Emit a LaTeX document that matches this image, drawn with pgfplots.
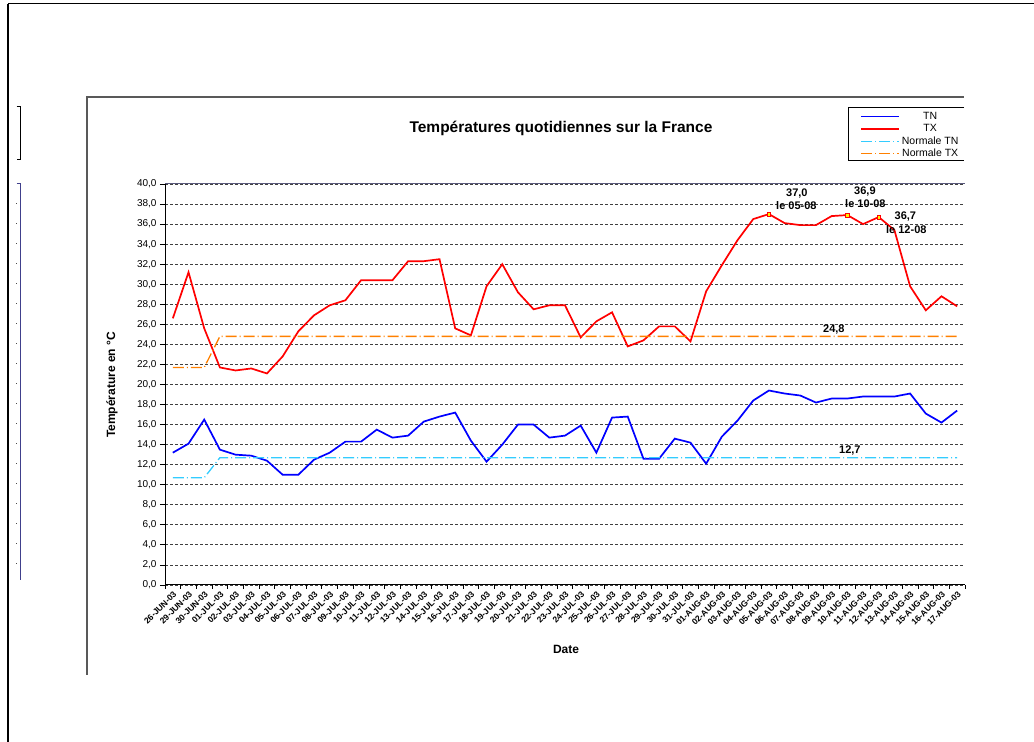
\documentclass[border=0pt]{standalone}
\usepackage{fontspec}
\setmainfont{Liberation Sans}
\usepackage{pgfplots}
\pgfplotsset{compat=1.18}
\usepackage{pgfplotstable}
\definecolor{ntn}{RGB}{51,204,255}
\definecolor{ntx}{RGB}{255,128,0}

\pgfplotstableread{
i TX TN NTX NTN
0 26.6 13.2 21.7 10.7
1 31.2 14.1 21.7 10.7
2 25.6 16.5 21.7 10.7
3 21.7 13.5 24.8 12.7
4 21.4 13.0 24.8 12.7
5 21.6 12.9 24.8 12.7
6 21.1 12.4 24.8 12.7
7 22.8 11.0 24.8 12.7
8 25.3 11.0 24.8 12.7
9 26.9 12.5 24.8 12.7
10 27.9 13.2 24.8 12.7
11 28.4 14.3 24.8 12.7
12 30.4 14.3 24.8 12.7
13 30.4 15.5 24.8 12.7
14 30.4 14.7 24.8 12.7
15 32.3 14.9 24.8 12.7
16 32.3 16.3 24.8 12.7
17 32.5 16.8 24.8 12.7
18 25.6 17.2 24.8 12.7
19 24.9 14.4 24.8 12.7
20 29.8 12.3 24.8 12.7
21 32.0 14.0 24.8 12.7
22 29.2 16.0 24.8 12.7
23 27.5 16.0 24.8 12.7
24 27.9 14.7 24.8 12.7
25 27.9 14.9 24.8 12.7
26 24.7 15.9 24.8 12.7
27 26.3 13.2 24.8 12.7
28 27.2 16.7 24.8 12.7
29 23.8 16.8 24.8 12.7
30 24.4 12.6 24.8 12.7
31 25.8 12.6 24.8 12.7
32 25.8 14.6 24.8 12.7
33 24.3 14.2 24.8 12.7
34 29.3 12.1 24.8 12.7
35 31.9 14.8 24.8 12.7
36 34.4 16.4 24.8 12.7
37 36.5 18.4 24.8 12.7
38 37.0 19.4 24.8 12.7
39 36.1 19.1 24.8 12.7
40 35.9 18.9 24.8 12.7
41 35.9 18.2 24.8 12.7
42 36.8 18.6 24.8 12.7
43 36.9 18.6 24.8 12.7
44 36.0 18.8 24.8 12.7
45 36.7 18.8 24.8 12.7
46 35.4 18.8 24.8 12.7
47 29.8 19.1 24.8 12.7
48 27.4 17.1 24.8 12.7
49 28.8 16.2 24.8 12.7
50 27.8 17.4 24.8 12.7
}\tdata

\begin{document}
\begin{tikzpicture}[x=1pt,y=1pt]
\path[use as bounding box] (0,0) rectangle (1034,742);
% page frame
\draw[line width=2.5pt] (8,0) -- (8,738);
\draw[line width=1pt] (8,738) -- (1034,738);
% side brackets
\draw[line width=1pt] (16.5,635) -- (20.5,635) -- (20.5,582) -- (16.5,582);
\draw[line width=0.8pt, black!40!blue!50!gray] (16.5,559) -- (20.5,559) -- (20.5,162);
\foreach \yy in {539,519,499,479,459,439,419,399,379,359,339,319,299,279,259,239,219,199,179}
  \draw[line width=0.8pt, black!70] (16.2,\yy) -- (17.2,\yy);
% chart frame
\draw[line width=1.6pt, black!65] (87,67) -- (87,645) -- (964,645);
% legend box (right side clipped)
\draw[line width=1pt] (964,634) -- (848,634) -- (848,581) -- (964,581);
% titles
\node[font=\fontsize{15.5}{18}\selectfont\bfseries] at (561,614) {Températures quotidiennes sur la France};
\node[font=\fontsize{12}{14}\selectfont\bfseries, rotate=90] at (112,357) {Température en °C};
\node[font=\fontsize{12}{14}\selectfont\bfseries] at (566,93) {Date};

\begin{axis}[
  at={(165pt,157pt)}, anchor=south west,
  scale only axis, width=800pt, height=401pt,
  xmin=-0.5, xmax=50.5, ymin=0, ymax=40,
  axis x line*=bottom, axis y line*=left,
  axis line style={-, black, line width=1pt},
  ytick={0,2,...,40},
  yticklabel style={/pgf/number format/.cd, fixed, fixed zerofill, precision=1, use comma, assume math mode=true, /tikz/.cd, font=\fontsize{10}{12}\selectfont},
  ymajorgrids,
  grid style={black!75, dash pattern=on 2.5pt off 2.5pt, line width=0.8pt},
  tick align=outside, major tick length=5pt, minor tick length=4pt,
  y tick style={black, line width=0.8pt},
  xtick={0,...,50},
  minor xtick={-0.5,0.5,...,50.5},
  major x tick style={draw=none},
  minor x tick style={black, line width=0.8pt},
  xticklabels={26-JUN-03,29-JUN-03,30-JUN-03,01-JUL-03,02-JUL-03,03-JUL-03,04-JUL-03,05-JUL-03,06-JUL-03,07-JUL-03,08-JUL-03,09-JUL-03,10-JUL-03,11-JUL-03,12-JUL-03,13-JUL-03,14-JUL-03,15-JUL-03,16-JUL-03,17-JUL-03,18-JUL-03,19-JUL-03,20-JUL-03,21-JUL-03,22-JUL-03,23-JUL-03,24-JUL-03,25-JUL-03,26-JUL-03,27-JUL-03,28-JUL-03,29-JUL-03,30-JUL-03,31-JUL-03,01-AUG-03,02-AUG-03,03-AUG-03,04-AUG-03,05-AUG-03,06-AUG-03,07-AUG-03,08-AUG-03,09-AUG-03,10-AUG-03,11-AUG-03,12-AUG-03,13-AUG-03,14-AUG-03,15-AUG-03,16-AUG-03,17-AUG-03},
  xticklabel style={rotate=45, anchor=north east, font=\fontsize{8.5}{9}\selectfont\bfseries, inner sep=0.5pt},
  legend style={at={(0.8675,1.187)}, anchor=north west, draw=none, fill=none, font=\fontsize{10.5}{12}\selectfont, row sep=-0.5pt, inner sep=1pt},
  legend cell align=center,
  legend image code/.code={\draw[#1] (0pt,0pt) -- (38pt,0pt);},
  clip=false,
]
\addplot[blue, line width=1.7pt] table[x=i,y=TN]{\tdata}; \addlegendentry{TN}
\addplot[red, line width=1.7pt] table[x=i,y=TX]{\tdata}; \addlegendentry{TX}
\addplot[ntn, line width=1.3pt, dash pattern=on 11pt off 3pt on 1pt off 3pt] table[x=i,y=NTN]{\tdata}; \addlegendentry{Normale TN}
\addplot[ntx, line width=1.3pt, dash pattern=on 11pt off 3pt on 1pt off 3pt] table[x=i,y=NTX]{\tdata}; \addlegendentry{Normale TX}
\addplot[only marks, mark=square*, mark size=1.8pt, mark options={fill=yellow, draw=red, line width=0.6pt}, forget plot] coordinates {(38,37.0) (43,36.9) (45,36.7)};
\draw[black!55!blue!30!gray, line width=1pt] (axis cs:-0.5,40) -- (axis cs:50.5,40);
\begin{scope}[every node/.style={font=\fontsize{11}{12}\selectfont\bfseries, inner sep=0pt}]
\node at (axis cs:39.78,39.10) {37,0};
\node at (axis cs:39.75,37.84) {le 05-08};
\node at (axis cs:44.12,39.30) {36,9};
\node at (axis cs:44.15,38.00) {le 10-08};
\node at (axis cs:46.70,36.74) {36,7};
\node at (axis cs:46.76,35.41) {le 12-08};
\node at (axis cs:42.14,25.44) {24,8};
\node at (axis cs:43.16,13.37) {12,7};
\end{scope}
\end{axis}
\end{tikzpicture}
\end{document}
